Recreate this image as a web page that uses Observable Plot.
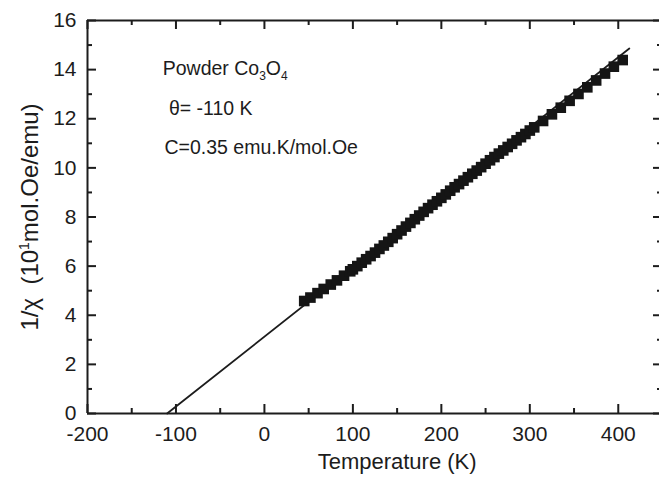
<!DOCTYPE html>
<html>
<head>
<meta charset="utf-8">
<script src="https://cdn.jsdelivr.net/npm/d3@7"></script>
<script src="https://cdn.jsdelivr.net/npm/@observablehq/plot@0.6"></script>
<style>
  html, body { margin: 0; padding: 0; background: #fff; overflow: hidden; }
  #chart svg { max-width: none !important; display: block; }
</style>
</head>
<body>
<div id="chart"></div>
<script>
// ---- data ----
const temperature = [45, 52, 60, 67, 75, 82, 90, 97,
  100, 105, 110, 115, 120, 125, 130, 135, 140, 145, 150, 155, 160, 165, 170, 175, 180, 185, 190, 195,
  200, 205, 210, 215, 220, 225, 230, 235, 240, 245, 250, 255, 260, 265, 270, 275, 280, 285, 290, 295,
  300, 305, 315, 325, 335, 345, 355, 365, 375, 385, 395, 405];
const invChi = [4.58, 4.72, 4.90, 5.07, 5.25, 5.42, 5.61, 5.79,
  5.87, 6.00, 6.14, 6.28, 6.41, 6.55, 6.70, 6.84, 6.99, 7.14, 7.30, 7.45, 7.61, 7.76, 7.91, 8.06, 8.21, 8.36, 8.50, 8.64,
  8.78, 8.92, 9.07, 9.21, 9.34, 9.48, 9.62, 9.76, 9.89, 10.03, 10.17, 10.31, 10.44, 10.58, 10.71, 10.85, 10.98, 11.12, 11.25, 11.38,
  11.52, 11.65, 11.91, 12.18, 12.45, 12.73, 13.01, 13.28, 13.56, 13.84, 14.12, 14.39];
const fitTemperature = [-110, 412.5];
const fitInvChi = [0, 14.86];

const xMajorTicks = [-200, -100, 0, 100, 200, 300, 400];
const xMinorTicks = [-150, -50, 50, 150, 250, 350];
const yMajorTicks = [0, 2, 4, 6, 8, 10, 12, 14, 16];
const yMinorTicks = [1, 3, 5, 7, 9, 11, 13, 15];

const xTitle = "Temperature (K)";
const yTitle = "1/χ  (10¹mol.Oe/emu)";
const annotationLines = ["Powder Co3O4", "θ= -110 K", "C=0.35 emu.K/mol.Oe"];

// ---- tables built from the arrays ----
const points = temperature.map((t, i) => ({t, v: invChi[i]}));
const fit = fitTemperature.map((t, i) => ({t, v: fitInvChi[i]}));
const notes = [
  {text: annotationLines[0], t: -115, v: 14.05},
  {text: annotationLines[1], t: -108, v: 12.42},
  {text: annotationLines[2], t: -113, v: 10.83}
];

const W = 663, H = 481, mL = 87, mR = 1, mT = 20, mB = 68;
const fh = H - mT - mB, fw = W - mL - mR;
const ink = "#1c1c1c";
const font = "'Liberation Sans', Arial, Helvetica, sans-serif";

const svg = Plot.plot({
  width: W, height: H,
  marginLeft: mL, marginRight: mR, marginTop: mT, marginBottom: mB,
  style: {fontFamily: font, background: "#fff", color: ink},
  x: {domain: [-200, 450]},
  y: {domain: [0, 16]},
  marks: [
    Plot.line(fit, {x: "t", y: "v", stroke: ink, strokeWidth: 1.8}),
    Plot.dot(points, {x: "t", y: "v", symbol: "square", r: 6, fill: "#151515", stroke: "none"}),
    // frame
    Plot.ruleY([0, 16], {y: d => d, stroke: ink, strokeWidth: 2}),
    Plot.ruleX([-200, 450], {x: d => d, stroke: ink, strokeWidth: 2}),
    // inward ticks
    Plot.tickX(xMajorTicks, {x: d => d, insetTop: fh - 9, stroke: ink, strokeWidth: 2}),
    Plot.tickX(xMinorTicks, {x: d => d, insetTop: fh - 5, stroke: ink, strokeWidth: 2}),
    Plot.tickX(xMajorTicks, {x: d => d, insetBottom: fh - 9, stroke: ink, strokeWidth: 2}),
    Plot.tickX(xMinorTicks, {x: d => d, insetBottom: fh - 5, stroke: ink, strokeWidth: 2}),
    Plot.tickY(yMajorTicks, {y: d => d, insetRight: fw - 9, stroke: ink, strokeWidth: 2}),
    Plot.tickY(yMinorTicks, {y: d => d, insetRight: fw - 5, stroke: ink, strokeWidth: 2}),
    Plot.tickY(yMajorTicks, {y: d => d, insetLeft: fw - 9, stroke: ink, strokeWidth: 2}),
    Plot.tickY(yMinorTicks, {y: d => d, insetLeft: fw - 5, stroke: ink, strokeWidth: 2}),
    // tick labels
    Plot.axisX({ticks: xMajorTicks, tickFormat: d => String(d), tickSize: 0, tickPadding: 13, fontSize: 21, label: null, fill: ink}),
    Plot.axisY({ticks: yMajorTicks, tickFormat: d => String(d), tickSize: 0, tickPadding: 11, fontSize: 21, label: null, fill: ink}),
    // axis titles
    Plot.text([xTitle], {x: 150, frameAnchor: "bottom", dy: 55, fontSize: 22, fill: ink}),
    Plot.text([yTitle], {frameAnchor: "left", dx: -57, rotate: -90, fontSize: 24, fill: ink}),
    // annotations
    Plot.text(notes, {x: "t", y: "v", text: "text", textAnchor: "start", fontSize: 19.5, fill: ink})
  ]
});
svg.style.maxWidth = "none";
document.getElementById("chart").appendChild(svg);

// sub/superscripts as real text
d3.select(svg).selectAll("text").each(function () {
  const s = d3.select(this);
  if (this.textContent === annotationLines[0]) {
    s.text(null);
    s.append("tspan").text("Powder Co");
    s.append("tspan").attr("font-size", 12).attr("dy", 5).text("3");
    s.append("tspan").attr("dy", -5).text("O");
    s.append("tspan").attr("font-size", 12).attr("dy", 5).text("4");
  } else if (this.textContent === yTitle) {
    s.text(null).attr("text-anchor", "middle");
    s.append("tspan").text("1/χ  (10");
    s.append("tspan").attr("font-size", 14).attr("dy", -9).text("1");
    s.append("tspan").attr("dy", 9).text("mol.Oe/emu)");
  }
});
</script>
</body>
</html>
